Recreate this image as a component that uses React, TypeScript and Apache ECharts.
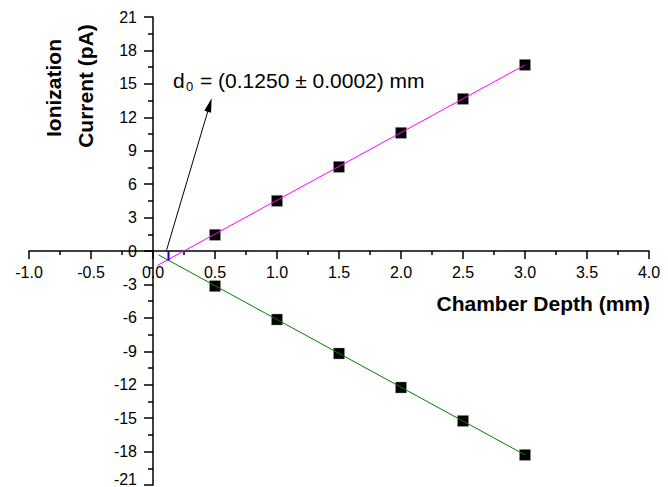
import React, { useEffect, useRef } from "react";
import * as echarts from "echarts";

const FONT = "'Liberation Sans', Arial, Helvetica, sans-serif";

// Measured data (Chamber Depth in mm, Ionization Current in pA)
const depthMm = [0.5, 1.0, 1.5, 2.0, 2.5, 3.0];
const positiveCurrent = [1.45, 4.5, 7.55, 10.6, 13.65, 16.7];
const negativeCurrent = [-3.15, -6.15, -9.2, -12.25, -15.25, -18.3];

// Linear fit end points
const positiveFit = [
  [0.035, -1.3],
  [3.0, 16.7],
];
const negativeFit = [
  [0.045, -0.35],
  [3.0, -18.3],
];

// Intercept marker and annotation arrow (data coordinates)
const interceptMark = [
  [0.125, 0],
  [0.125, -0.85],
];
const arrowStart = [0.11, 0.1];
const arrowEnd = [0.457, 13.1];

// Axis ranges
const xRange = [-1, 4];
const xStep = 0.5;
const yRange = [-21, 21];
const yStep = 3;

const annotationMain = "= (0.1250 ± 0.0002) mm";
const xTitle = "Chamber Depth (mm)";
const yTitle1 = "Ionization";
const yTitle2 = "Current (pA)";

const W = 668;
const H = 487;
const GRID = { left: 29, right: 19, top: 17, bottom: 2 };

export default function App() {
  const ref = useRef<HTMLDivElement>(null);

  useEffect(() => {
    if (!ref.current) return;
    const chart = echarts.init(ref.current, undefined, { renderer: "svg" });
    const axisColor = "#000";
    const lineW = 1.5;

    const gw = W - GRID.left - GRID.right;
    const gh = H - GRID.top - GRID.bottom;
    // distance from grid edges to the zero lines, so axes cross at the origin
    const yAxisOffset = -((0 - xRange[0]) / (xRange[1] - xRange[0])) * gw;
    const xAxisOffset = -((0 - yRange[0]) / (yRange[1] - yRange[0])) * gh;

    const scatterStyle = {
      color: "#000",
      borderColor: "#999",
      borderWidth: 0.4,
      opacity: 1,
    };

    chart.setOption({
      animation: false,
      grid: { ...GRID, containLabel: false, outerBoundsMode: "none" },
      xAxis: {
        type: "value",
        position: "bottom",
        offset: xAxisOffset,
        min: xRange[0],
        max: xRange[1],
        interval: xStep,
        axisLine: { onZero: false, lineStyle: { color: axisColor, width: lineW } },
        axisTick: { show: true, length: 8, lineStyle: { color: axisColor, width: lineW } },
        minorTick: { show: true, splitNumber: 2, length: 4, lineStyle: { color: axisColor, width: lineW } },
        splitLine: { show: false },
        minorSplitLine: { show: false },
        axisLabel: {
          formatter: (v: number) => v.toFixed(1),
          color: "#000",
          fontSize: 16,
          margin: 13,
          fontFamily: FONT,
        },
      },
      yAxis: {
        type: "value",
        position: "left",
        offset: yAxisOffset,
        min: yRange[0],
        max: yRange[1],
        interval: yStep,
        axisLine: { onZero: false, lineStyle: { color: axisColor, width: lineW } },
        axisTick: { show: true, length: 9, lineStyle: { color: axisColor, width: lineW } },
        minorTick: { show: true, splitNumber: 2, length: 5, lineStyle: { color: axisColor, width: lineW } },
        splitLine: { show: false },
        minorSplitLine: { show: false },
        axisLabel: {
          color: "#000",
          fontSize: 16,
          margin: 16,
          fontFamily: FONT,
          formatter: (v: number) => (v === yRange[0] ? "{low|" + v + "}" : String(v)),
          rich: {
            low: {
              fontSize: 16,
              fontFamily: FONT,
              color: "#000",
              padding: [0, 0, 12, 0],
            },
          },
        },
      },
      series: [
        {
          type: "scatter",
          symbol: "rect",
          symbolSize: 11,
          itemStyle: scatterStyle,
          data: depthMm.map((x, i) => [x, positiveCurrent[i]]),
          z: 2,
        },
        {
          type: "scatter",
          symbol: "rect",
          symbolSize: 11,
          itemStyle: scatterStyle,
          data: depthMm.map((x, i) => [x, negativeCurrent[i]]),
          z: 2,
        },
        {
          type: "line",
          data: positiveFit,
          showSymbol: false,
          symbol: "none",
          lineStyle: { color: "#ff00ff", width: 1 },
          z: 3,
        },
        {
          type: "line",
          data: negativeFit,
          showSymbol: false,
          symbol: "none",
          lineStyle: { color: "#008000", width: 1 },
          z: 3,
        },
        {
          type: "line",
          data: interceptMark,
          showSymbol: false,
          symbol: "none",
          lineStyle: { color: "#0000ff", width: 2 },
          z: 4,
          markLine: {
            silent: true,
            symbol: ["none", "triangle"],
            symbolSize: [7, 14],
            label: { show: false },
            lineStyle: { color: "#000", width: 1, type: "solid" },
            data: [[{ coord: arrowStart }, { coord: arrowEnd }]],
          },
        },
      ],
      graphic: [
        {
          type: "text",
          x: 53,
          y: 88,
          rotation: Math.PI / 2,
          style: {
            text: yTitle1,
            fontSize: 21,
            fontWeight: "bold",
            fontFamily: FONT,
            fill: "#000",
            textAlign: "center",
            textVerticalAlign: "middle",
          },
        },
        {
          type: "text",
          x: 85,
          y: 86,
          rotation: Math.PI / 2,
          style: {
            text: yTitle2,
            fontSize: 21,
            fontWeight: "bold",
            fontFamily: FONT,
            fill: "#000",
            textAlign: "center",
            textVerticalAlign: "middle",
          },
        },
        {
          type: "text",
          x: 650,
          y: 303,
          style: {
            text: xTitle,
            fontSize: 21,
            fontWeight: "bold",
            fontFamily: FONT,
            fill: "#000",
            textAlign: "right",
            textVerticalAlign: "middle",
          },
        },
        {
          type: "text",
          x: 173,
          y: 80,
          style: {
            text: "d",
            fontSize: 21,
            fontFamily: FONT,
            fill: "#000",
            textAlign: "left",
            textVerticalAlign: "middle",
          },
        },
        {
          type: "text",
          x: 186,
          y: 86,
          style: {
            text: "0",
            fontSize: 13,
            fontFamily: FONT,
            fill: "#000",
            textAlign: "left",
            textVerticalAlign: "middle",
          },
        },
        {
          type: "text",
          x: 200,
          y: 80,
          style: {
            text: annotationMain,
            fontSize: 21,
            fontFamily: FONT,
            fill: "#000",
            textAlign: "left",
            textVerticalAlign: "middle",
          },
        },
      ],
    });

    return () => chart.dispose();
  }, []);

  return (
    <div
      ref={ref}
      style={{ position: "absolute", left: 0, top: 0, width: W, height: H, background: "#fff" }}
    />
  );
}
